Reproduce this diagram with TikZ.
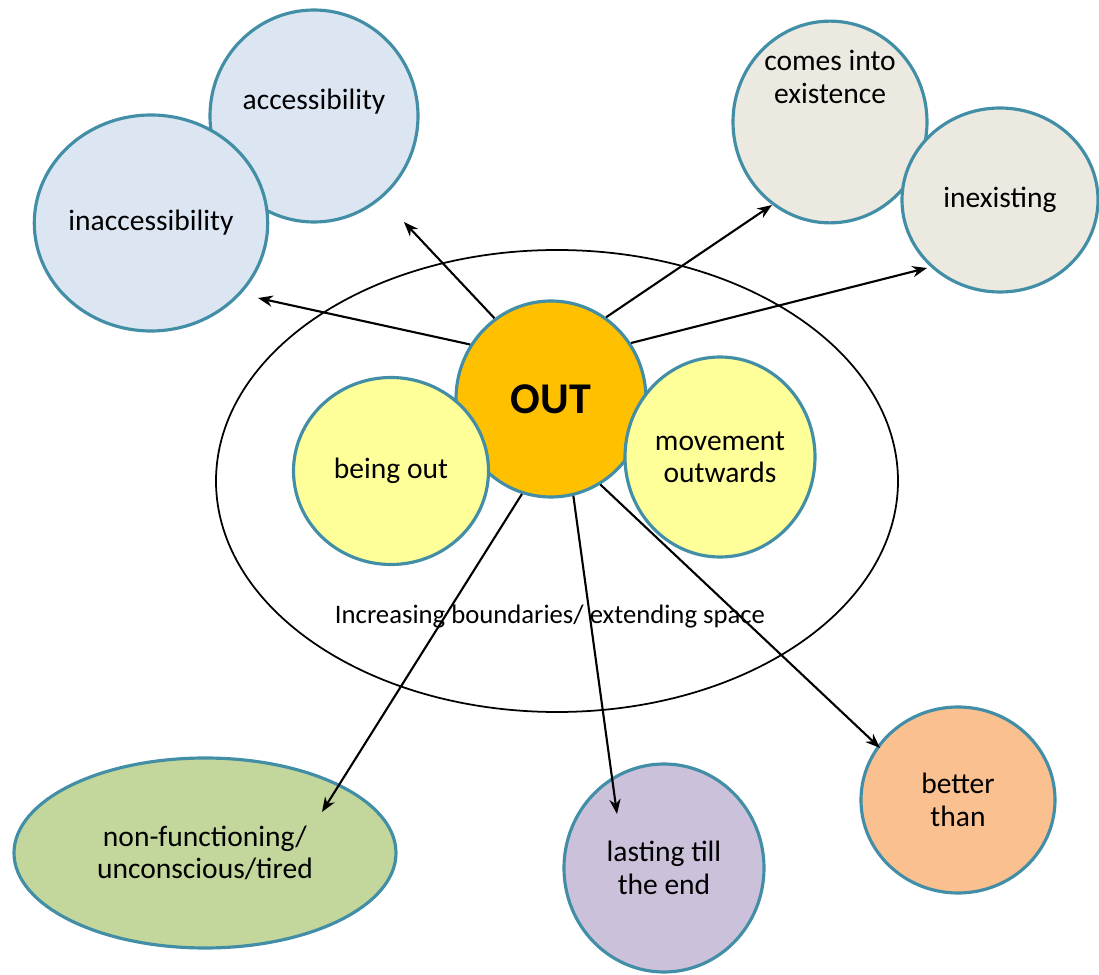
\documentclass[tikz,border=0pt]{standalone}
\usepackage{fontspec}
\setmainfont{Carlito}
\usetikzlibrary{shapes.geometric,arrows.meta}
\definecolor{rim}{RGB}{66,142,166}
\definecolor{paleblue}{RGB}{220,230,242}
\definecolor{paletan}{RGB}{236,234,224}
\definecolor{gold}{RGB}{255,192,0}
\definecolor{paleyellow}{RGB}{255,255,153}
\definecolor{olive}{RGB}{195,214,155}
\definecolor{lilac}{RGB}{204,193,218}
\definecolor{peach}{RGB}{250,192,144}
\tikzset{bubble/.style={ellipse, draw=rim, line width=0.9pt, inner sep=0pt, align=center,
  font=\fontsize{8.4}{9.2}\selectfont},
  spoke/.style={-{Stealth[length=4.2pt,width=3.2pt]}, line width=0.6pt}}

\begin{document}
\begin{tikzpicture}
\useasboundingbox (0,0) rectangle (10.99,9.75);
\draw [line width=0.5pt] (5.57,4.94) ellipse [x radius=3.41cm, y radius=2.31cm];
\draw (5.50,3.58) node[font=\fontsize{7.6}{9}\selectfont] (space) {Increasing boundaries/ extending space};
%upper pairs
\draw (3.14,8.59) node[bubble, fill=paleblue, minimum width=2.08cm, minimum height=2.12cm, text depth=0.34cm] (acc) {accessibility}
(1.51,7.52) node[bubble, fill=paleblue, minimum width=2.28cm, minimum height=2.16cm] (inacc) {inaccessibility}
(8.30,8.53) node[bubble, fill=paletan, minimum width=1.94cm, minimum height=1.68cm, text depth=0.9cm] (comes) {comes into\\existence}
(10.00,7.75) node[bubble, fill=paletan, minimum width=1.96cm, minimum height=1.84cm] (inex) {inexisting};
%centre
\draw (5.51,5.76) node[bubble, fill=gold, minimum width=1.90cm, minimum height=1.96cm, font=\fontsize{12.5}{14}\selectfont\bfseries] (out) {OUT}
(3.91,5.04) node[bubble, fill=paleyellow, minimum width=1.95cm, minimum height=1.87cm] (being) {being out}
(7.20,5.18) node[bubble, fill=paleyellow, minimum width=1.90cm, minimum height=2.00cm] (move) {movement\\outwards};
%lower
\draw (2.05,1.22) node[bubble, fill=olive, minimum width=3.82cm, minimum height=1.90cm] (nonf) {non-functioning/\\unconscious/tired}
(6.64,1.07) node[bubble, fill=lilac, minimum width=2.00cm, minimum height=2.08cm] (last) {lasting till\\the end}
(9.58,1.75) node[bubble, fill=peach, minimum width=1.94cm, minimum height=1.86cm] (better) {better\\than};
%arrow ends
\coordinate (tacc) at (4.04,7.53);
\coordinate (tinacc) at (2.58,6.77);
\coordinate (tcomes) at (7.72,7.70);
\coordinate (tinex) at (9.27,7.07);
\coordinate (tnonf) at (3.22,1.63);
\coordinate (tlast) at (6.17,1.61);
\coordinate (tbetter) at (8.80,2.27);
\draw [spoke] (out.125) -- (tacc);
\draw [spoke] (out.146) -- (tinacc);
\draw [spoke] (out.56) -- (tcomes);
\draw [spoke] (out.35) -- (tinex);
\draw [spoke] (out.253) -- (tnonf);
\draw [spoke] (out.283) -- (tlast);
\draw [spoke] (out.300) -- (tbetter);
\end{tikzpicture}
\end{document}
